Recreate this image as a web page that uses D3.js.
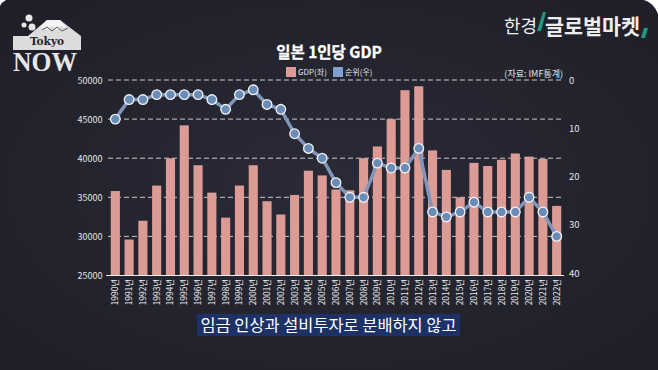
<!DOCTYPE html>
<html>
<head>
<meta charset="utf-8">
<script src="https://cdn.jsdelivr.net/npm/d3@7"></script>
<style>
html,body{margin:0;padding:0;background:#22212c;overflow:hidden}
text{font-family:"Noto Sans CJK KR","Noto Sans",sans-serif}
</style>
</head>
<body>
<script>
const years = d3.range(1990,2023).map(y => y+'년');
const gdp = [35800,29600,32000,36500,40000,44200,39100,35600,32400,36500,39100,34500,32800,35300,38400,37800,36000,35900,40000,41500,45000,48700,49200,41000,38500,35000,39400,39000,39800,40600,40200,39900,33900];
const rank = [8,4,4,3,3,3,3,4,6,3,2,5,6,11,14,16,21,24,24,17,18,18,14,27,28,27,25,27,27,27,24,27,32];
const gdpTicks = [25000,30000,35000,40000,45000,50000];
const rankTicks = [0,10,20,30,40];

const width = 658, height = 370;
const margin = {top:80, right:94, bottom:94.5, left:108};

const svg = d3.select('body').append('svg')
              .attr('width',width)
              .attr('height',height)
              .style('display','block');

const defs = svg.append('defs');
const bg = defs.append('radialGradient').attr('id','bg').attr('cx','50%').attr('cy','50%').attr('r','60%');
bg.append('stop').attr('offset','0%').attr('stop-color','#2b2b38');
bg.append('stop').attr('offset','100%').attr('stop-color','#20202a');

svg.append('rect').attr('width',width).attr('height',height).attr('fill','url(#bg)');

const xScale = d3.scaleBand()
                 .domain(years)
                 .range([margin.left,width-margin.right])
                 .paddingInner(0.34)
                 .paddingOuter(0.2);

const yScale = d3.scaleLinear()
                 .domain([25000,50000])
                 .range([height-margin.bottom,margin.top]);

const rankScale = d3.scaleLinear()
                    .domain([0,40])
                    .range([margin.top,height-margin.bottom]);

// dashed grid
svg.append('g').selectAll('line')
   .data(gdpTicks.slice(1))
   .join('line')
   .attr('x1',margin.left)
   .attr('x2',width-margin.right)
   .attr('y1',d => yScale(d))
   .attr('y2',d => yScale(d))
   .attr('stroke','#c9c9ce')
   .attr('stroke-width',1)
   .attr('stroke-dasharray','5 3');

// bars
svg.append('g').selectAll('rect')
   .data(gdp)
   .join('rect')
   .attr('x',(d,i) => xScale(years[i]))
   .attr('y',d => yScale(d))
   .attr('width',xScale.bandwidth())
   .attr('height',d => yScale(25000)-yScale(d))
   .attr('fill','#dc9c95');

// baseline
svg.append('line')
   .attr('x1',margin.left-2)
   .attr('x2',width-margin.right)
   .attr('y1',yScale(25000))
   .attr('y2',yScale(25000))
   .attr('stroke','#f0f0f0')
   .attr('stroke-width',1.2);

// left axis
svg.append('g').selectAll('text')
   .data(gdpTicks)
   .join('text')
   .attr('x',102.5)
   .attr('y',d => yScale(d)+3.5)
   .attr('text-anchor','end')
   .attr('font-size',9)
   .attr('fill','#e4e4e6')
   .text(d => d);

// right axis
svg.append('g').selectAll('text')
   .data(rankTicks)
   .join('text')
   .attr('x',569)
   .attr('y',d => rankScale(d)+3.5-d*0.06)
   .attr('font-size',9.5)
   .attr('fill','#e4e4e6')
   .text(d => d);

// x labels
svg.append('g').selectAll('text')
   .data(years)
   .join('text')
   .attr('transform',d => `translate(${xScale(d)+xScale.bandwidth()/2+3},279) rotate(-90)`)
   .attr('text-anchor','end')
   .attr('font-size',8.4)
   .attr('fill','#ececee')
   .text(d => d);

// rank line
const line = d3.line()
               .x((d,i) => xScale(years[i])+xScale.bandwidth()/2)
               .y(d => rankScale(d));

svg.append('path')
   .datum(rank)
   .attr('d',line)
   .attr('fill','none')
   .attr('stroke','#7f96ba')
   .attr('stroke-width',3.5);

svg.append('g').selectAll('circle')
   .data(rank)
   .join('circle')
   .attr('cx',(d,i) => xScale(years[i])+xScale.bandwidth()/2)
   .attr('cy',d => rankScale(d))
   .attr('r',4.8)
   .attr('fill','#6c8cb8')
   .attr('stroke','#f2f4f8')
   .attr('stroke-width',1.3);

// title and legend
svg.append('text').attr('x',329).attr('y',58).attr('text-anchor','middle')
   .attr('font-size',15.5).attr('font-weight',700).attr('fill','#fff')
   .attr('stroke','#fff').attr('stroke-width',0.3).text('일본 1인당 GDP');
svg.append('rect').attr('x',286).attr('y',67).attr('width',10).attr('height',10).attr('fill','#dc9c95');
svg.append('text').attr('x',298).attr('y',75).attr('font-size',8).attr('fill','#e4e4e6').text('GDP(좌)');
svg.append('rect').attr('x',333).attr('y',67).attr('width',10).attr('height',10).attr('fill','#7fa0d0');
svg.append('text').attr('x',345).attr('y',75).attr('font-size',8).attr('fill','#e4e4e6').text('순위(우)');
svg.append('text').attr('x',563).attr('y',77).attr('text-anchor','end')
   .attr('font-size',9).attr('fill','#e4e4e6').text('(자료: IMF통계)');

// caption
svg.append('rect').attr('x',197).attr('y',314).attr('width',263).attr('height',22).attr('fill','#1e3166');
svg.append('text').attr('x',328.5).attr('y',331).attr('text-anchor','middle')
   .attr('font-size',16.4).attr('fill','#fff').text('임금 인상과 설비투자로 분배하지 않고');

// brand, top right
svg.append('text').attr('x',504).attr('y',33).attr('font-size',18).attr('fill','#eee').text('한경');
svg.append('text').attr('x',545).attr('y',34).attr('font-size',21).attr('font-weight',700).attr('fill','#eee')
   .attr('textLength',95).attr('lengthAdjust','spacingAndGlyphs').text('글로벌마켓');
svg.append('path').attr('d','M537 31L543 12h3L541 31Z').attr('fill','#1f9a80');
svg.append('path').attr('d','M641 38L644 28h4L645 38Z').attr('fill','#1f9a80');

// Tokyo NOW logo
const logo = svg.append('g');
logo.append('path')
    .attr('d','M13 36L28 36L47 20L60 20L81 36V50H13Z')
    .attr('fill','#dcdcdc');
logo.append('path')
    .attr('d','M47 20L60 20L67 28L61 26L57 30L52 26L46 30L40 27Z')
    .attr('fill','#f4f4f4');
logo.append('path')
    .attr('d','M42 30L47 27L52 31L57 27L62 31L68 28')
    .attr('fill','none').attr('stroke','#33323c').attr('stroke-width',0.8);
logo.append('g').selectAll('circle')
    .data([[29,18,3.5],[24,25,2.5],[32,27,3.5]])
    .join('circle')
    .attr('cx',d => d[0]).attr('cy',d => d[1]).attr('r',d => d[2])
    .attr('fill','#e8e8e8');
logo.append('text').attr('x',47).attr('y',44.5).attr('text-anchor','middle')
    .style('font-family','"DejaVu Serif",serif')
    .attr('font-size',10.5).attr('font-weight',700).attr('fill','#24232d').text('Tokyo');
logo.append('text').attr('x',45).attr('y',71).attr('text-anchor','middle')
    .style('font-family','"Liberation Serif",serif')
    .attr('font-size',27).attr('font-weight',700).attr('fill','#e6e6e6')
    .attr('textLength',64).attr('lengthAdjust','spacingAndGlyphs').text('NOW');

// white rounded corners of the video frame
svg.append('path').attr('d','M0 0H6Q2 2 0 6Z').attr('fill','#fff');
svg.append('path').attr('d','M644 0H658V14Q654 3 644 0Z').attr('fill','#fff');
</script>
</body>
</html>
